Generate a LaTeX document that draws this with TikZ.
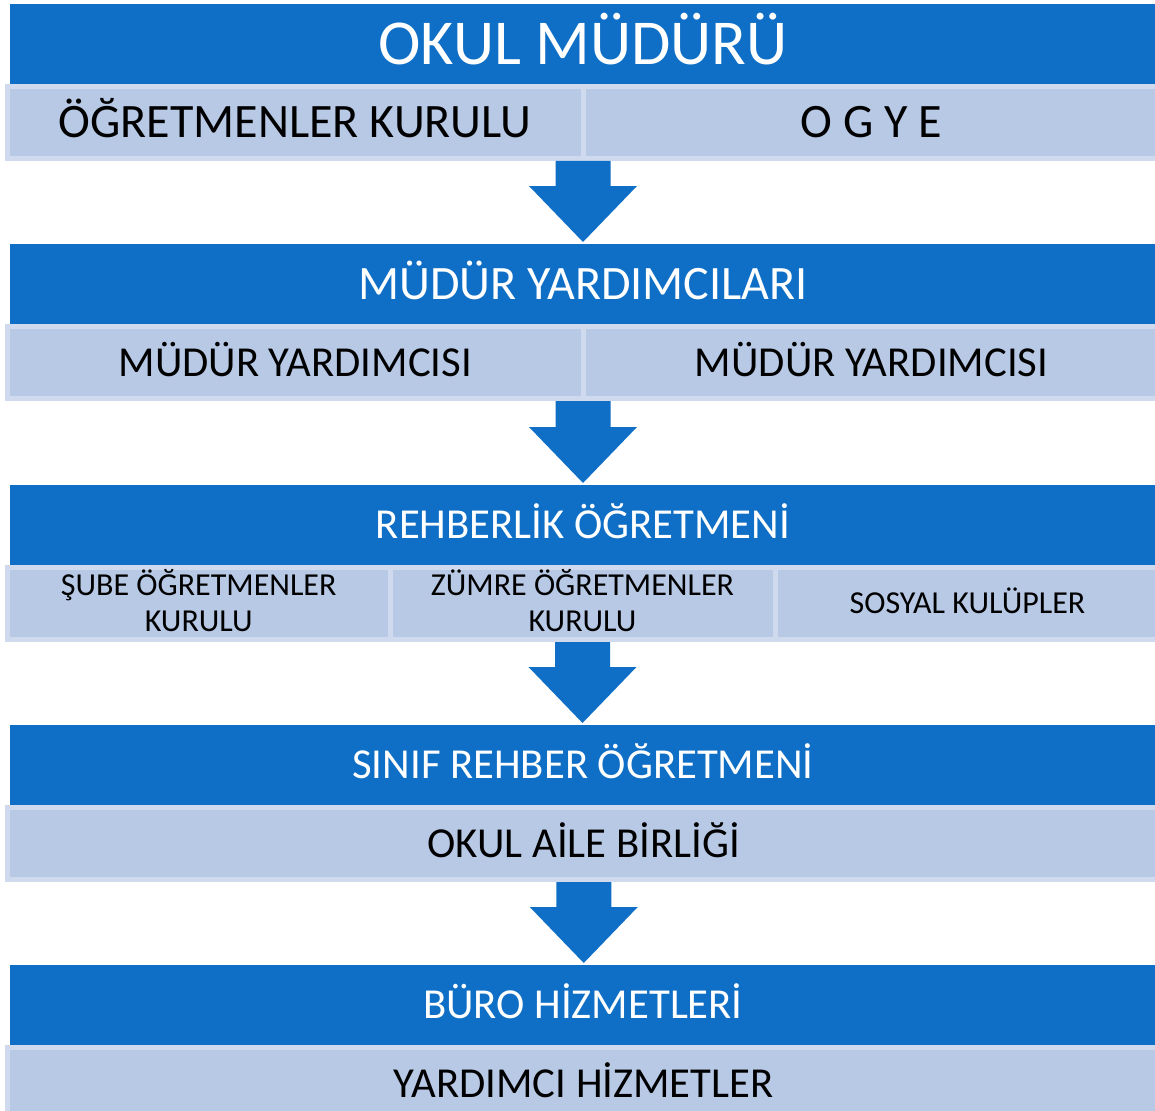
\documentclass[tikz,border=0pt]{standalone}
\usepackage{fontspec}
\setmainfont{Carlito}
\usetikzlibrary{positioning,calc}

\definecolor{koyu}{HTML}{0F6FC6}
\definecolor{acik}{HTML}{B8C9E6}
\definecolor{kenar}{HTML}{D0DAEE}

\tikzset{
  baslik/.style={fill=koyu, text=white, minimum width=1146pt, minimum height=80pt,
    inner sep=0pt, outer sep=0pt, anchor=north west},
  kutu/.style={fill=acik, draw=kenar, line width=5pt, minimum height=72pt,
    inner sep=0pt, outer sep=0pt, anchor=north west, text=black},
  blok/.style={fill=koyu},
  buyuk/.style={font=\fontsize{64}{70}\selectfont, text height=40.4pt, text depth=0pt},
  orta/.style={font=\fontsize{48}{52}\selectfont, text height=30.3pt, text depth=0pt},
  normal/.style={font=\fontsize{42.7}{46}\selectfont, text height=27pt, text depth=0pt},
  kucuk/.style={font=\fontsize{32}{36}\selectfont, align=center, text height=56.2pt, text depth=0pt},
}

% block arrow from a box bottom down to the next bar
\newcommand{\asagiok}[2]{%
  \fill[blok] let \p1=(#1), \p2=(#2.north) in
    (\x1-27.5pt,\y1-2.5pt) -- (\x1+27.5pt,\y1-2.5pt) -- (\x1+27.5pt,\y2+58pt)
    -- (\x1+54pt,\y2+58pt) -- (\x1,\y2+2pt) -- (\x1-54pt,\y2+58pt)
    -- (\x1-27.5pt,\y2+58pt) -- cycle;}

\begin{document}
\begin{tikzpicture}[x=1pt, y=-1pt]
  \useasboundingbox (0,0) rectangle (1155,1110);
  \clip (0,0) rectangle (1155,1110);

  % --- Okul muduru ---
  \node[kutu, orta, minimum width=575.5pt] (ogrkurulu) at (7.5,86.5) {ÖĞRETMENLER KURULU};
  \node[kutu, orta, minimum width=577pt] (ogye) at (583,86.5) {O G Y E};
  \node[baslik, buyuk] (mudur) at (10,4) {OKUL MÜDÜRÜ};

  % --- Mudur yardimcilari ---
  \node[kutu, normal, minimum width=575.5pt] (yrd1) at (7.5,326.5) {MÜDÜR YARDIMCISI};
  \node[kutu, normal, minimum width=577pt] (yrd2) at (583,326.5) {MÜDÜR YARDIMCISI};
  \node[baslik, orta] (yrdbaslik) at (10,244) {MÜDÜR YARDIMCILARI};

  % --- Rehberlik ---
  \node[kutu, kucuk, minimum width=382.5pt] (sube) at (7.5,567.5) {ŞUBE ÖĞRETMENLER\\KURULU};
  \node[kutu, kucuk, minimum width=385pt] (zumre) at (390,567.5) {ZÜMRE ÖĞRETMENLER\\KURULU};
  \node[kutu, font=\fontsize{32}{36}\selectfont, text height=20.2pt, text depth=0pt,
    minimum width=385pt] (sosyal) at (775,567.5) {SOSYAL KULÜPLER};
  \node[baslik, normal] (rehber) at (10,485) {REHBERLİK ÖĞRETMENİ};

  % --- Sinif rehber ---
  \node[kutu, normal, minimum width=1152.5pt] (aile) at (7.5,807.5) {OKUL AİLE BİRLİĞİ};
  \node[baslik, normal] (sinif) at (10,725) {SINIF REHBER ÖĞRETMENİ};

  % --- Buro ---
  \node[kutu, normal, minimum width=1152.5pt] (yardimci) at (7.5,1047.5) {YARDIMCI HİZMETLER};
  \node[baslik, normal] (buro) at (10,965) {BÜRO HİZMETLERİ};

  % arrows
  \asagiok{ogrkurulu.south east}{yrdbaslik}
  \asagiok{yrd1.south east}{rehber}
  \asagiok{zumre.south}{sinif}
  \asagiok{aile.south}{buro}
\end{tikzpicture}
\end{document}
